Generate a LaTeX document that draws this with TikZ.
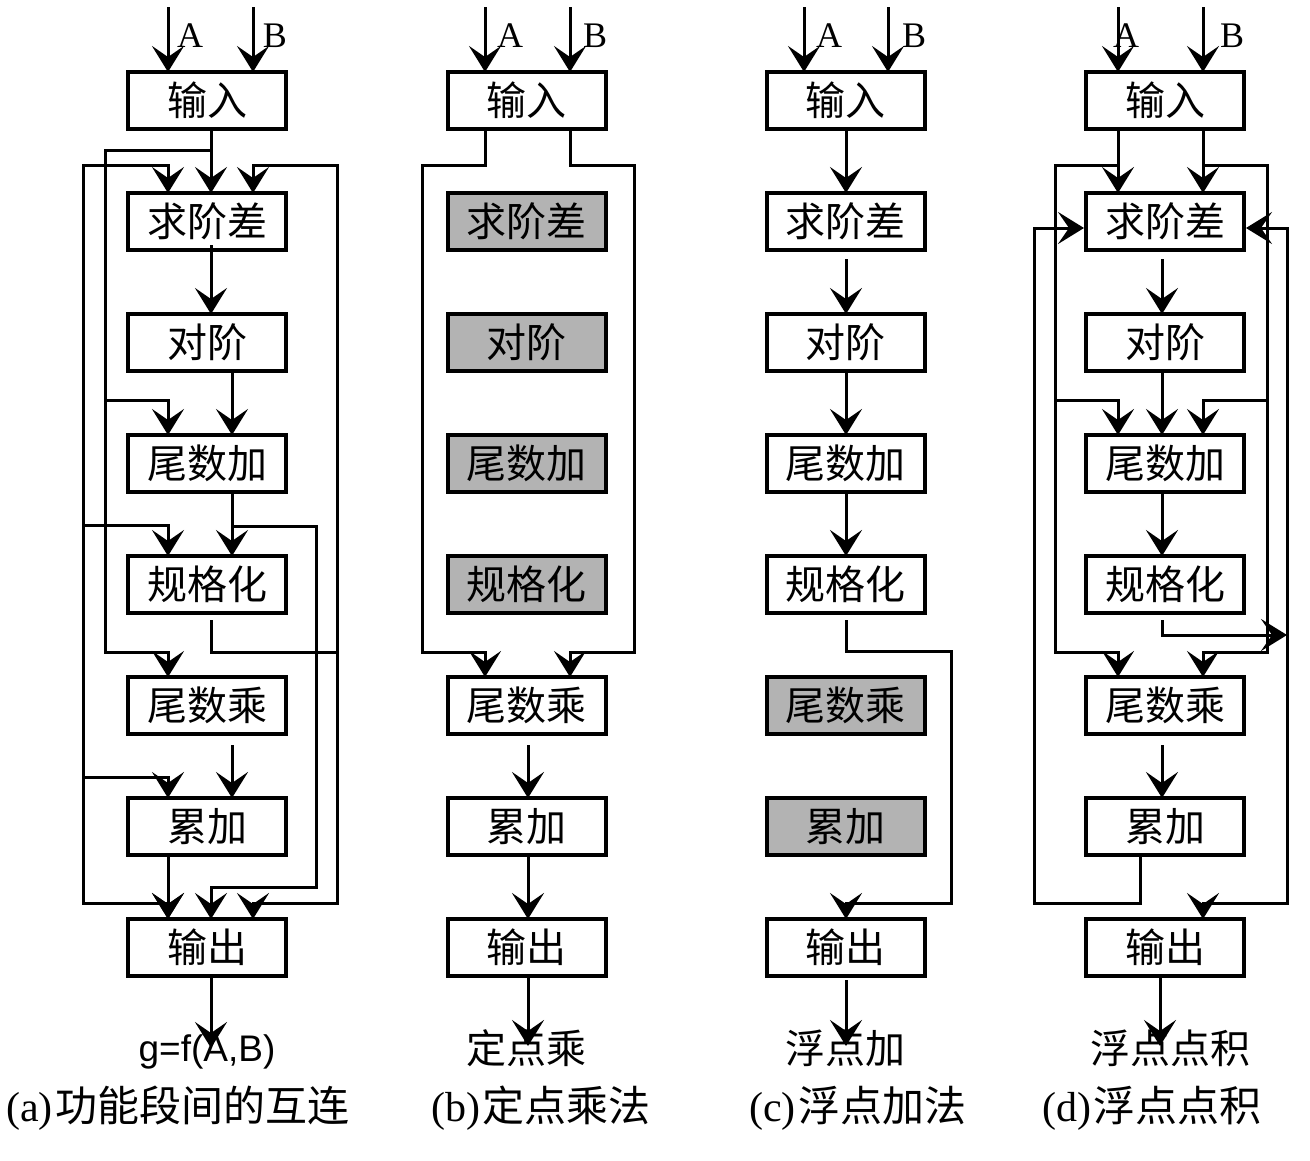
\documentclass[tikz,border=0pt]{standalone}
\usepackage{fontspec}
\setmainfont{Liberation Serif}
\newfontfamily\cjk{Noto Sans CJK SC}
\newfontfamily\arialf{Liberation Sans}
\usetikzlibrary{arrows.meta}
\definecolor{boxgray}{RGB}{179,179,179}
\tikzset{
  stagebox/.style={draw, line width=4pt, minimum width=158pt, minimum height=57pt, inner sep=0pt,
    fill=white, font=\cjk\fontsize{40}{44}\selectfont},
  graybox/.style={stagebox, fill=boxgray},
  wire/.style={line width=3pt, line cap=rect, line join=miter},
  conn/.style={wire, -{Stealth[length=26pt,width=32pt,inset=11pt]}},
  abtext/.style={font=\fontsize{36}{40}\selectfont, inner sep=0pt},
  outtext/.style={font=\cjk\fontsize{40}{44}\selectfont, inner sep=0pt},
  captext/.style={font=\fontsize{42}{46}\selectfont, inner sep=0pt}
}
\begin{document}
\begin{tikzpicture}[x=1pt,y=-1pt]
\fill[white] (0,0) rectangle (1310,1160);
\useasboundingbox (0,0) rectangle (1310,1160);

% ---------------- column (a) ----------------
\node[stagebox] (a1) at (207,100.5) {输入};
\node[stagebox] (a2) at (207,221.5) {求阶差};
\node[stagebox] (a3) at (207,342.5) {对阶};
\node[stagebox] (a4) at (207,463.5) {尾数加};
\node[stagebox] (a5) at (207,584.5) {规格化};
\node[stagebox] (a6) at (207,705.5) {尾数乘};
\node[stagebox] (a7) at (207,826.5) {累加};
\node[stagebox] (a8) at (207,947.5) {输出};
\node[abtext] (aA) at (190,36) {A};
\node[abtext] (aB) at (275,36) {B};
\coordinate (aAs) at (168,8);
\coordinate (aBs) at (253,8);
\draw[conn] (aAs) -- ([xshift=-39pt,yshift=-2pt]a1.north);
\draw[conn] (aBs) -- ([xshift=46pt,yshift=-2pt]a1.north);
\draw[conn] ([xshift=4pt]a1.south) -- ([xshift=4pt,yshift=-2pt]a2.north);
\draw[conn] (211,150) -- (105,150) -- (105,652) -- (168,652) -- ([xshift=-39pt,yshift=-2pt]a6.north);
\draw[conn] (105,400) -- (168,400) -- ([xshift=-39pt,yshift=-2pt]a4.north);
\draw[conn] (83,165) -- (168,165) -- ([xshift=-39pt,yshift=-2pt]a2.north);
\draw[conn] (83,165) -- (83,903) -- (168,903) -- ([xshift=-39pt,yshift=-2pt]a8.north);
\draw[conn] (83,525) -- (168,525) -- ([xshift=-39pt,yshift=-2pt]a5.north);
\draw[conn] (83,777) -- (168,777) -- ([xshift=-39pt,yshift=-2pt]a7.north);
\draw[conn] ([xshift=-39pt]a7.south) -- ([xshift=-39pt,yshift=-2pt]a8.north);
\draw[conn] ([xshift=4pt,yshift=6pt]a2.south) -- ([xshift=4pt,yshift=-2pt]a3.north);
\draw[conn] ([xshift=25pt]a3.south) -- ([xshift=25pt,yshift=-2pt]a4.north);
\draw[conn] ([xshift=25pt]a4.south) -- ([xshift=25pt,yshift=-2pt]a5.north);
\draw[conn] (232,526) -- (316,526) -- (316,887) -- (211,887) -- ([xshift=4pt,yshift=-2pt]a8.north);
\draw[wire] ([xshift=4pt,yshift=-6pt]a5.south) -- (211,652) -- (337,652);
\draw[conn] (337,165) -- (253,165) -- ([xshift=46pt,yshift=-2pt]a2.north);
\draw[wire] (337,165) -- (337,903);
\draw[conn] (337,903) -- (253,903) -- ([xshift=46pt,yshift=-2pt]a8.north);
\draw[conn] ([xshift=25pt,yshift=-10pt]a6.south) -- ([xshift=25pt,yshift=-2pt]a7.north);
\node[font=\arialf\fontsize{37}{40}\selectfont, inner sep=0pt] (ga) at (207,1052) {g=f(A,B)};
\coordinate (gat) at (211,1048);
\draw[conn] ([xshift=4pt]a8.south) -- (gat);
\node[captext, anchor=west] (capa) at (6,1108) {(a)\hspace{3pt}{\cjk 功能段间的互连}};

% ---------------- column (b) ----------------
\node[stagebox] (b1) at (526.5,100.5) {输入};
\node[graybox] (b2) at (526.5,221.5) {求阶差};
\node[graybox] (b3) at (526.5,342.5) {对阶};
\node[graybox] (b4) at (526.5,463.5) {尾数加};
\node[graybox] (b5) at (526.5,584.5) {规格化};
\node[stagebox] (b6) at (526.5,705.5) {尾数乘};
\node[stagebox] (b7) at (526.5,826.5) {累加};
\node[stagebox] (b8) at (526.5,947.5) {输出};
\node[abtext] (bA) at (510,36) {A};
\node[abtext] (bB) at (595,36) {B};
\coordinate (bAs) at (485,8);
\coordinate (bBs) at (570,8);
\draw[conn] (bAs) -- ([xshift=-41.5pt,yshift=-2pt]b1.north);
\draw[conn] (bBs) -- ([xshift=43.5pt,yshift=-2pt]b1.north);
\draw[conn] ([xshift=-41.5pt]b1.south) -- (485,165) -- (422,165) -- (422,652) -- (485,652) -- ([xshift=-41.5pt,yshift=-2pt]b6.north);
\draw[conn] ([xshift=43.5pt]b1.south) -- (570,165) -- (634,165) -- (634,652) -- (570,652) -- ([xshift=43.5pt,yshift=-2pt]b6.north);
\draw[conn] ([xshift=1.5pt,yshift=-10pt]b6.south) -- ([xshift=1.5pt,yshift=-2pt]b7.north);
\draw[conn] ([xshift=1.5pt]b7.south) -- ([xshift=1.5pt,yshift=-2pt]b8.north);
\node[outtext] (gb) at (526.5,1048) {定点乘};
\coordinate (gbt) at (528,1046);
\draw[conn] ([xshift=1.5pt]b8.south) -- (gbt);
\node[captext] (capb) at (541,1108) {(b)\hspace{3pt}{\cjk 定点乘法}};

% ---------------- column (c) ----------------
\node[stagebox] (c1) at (845.5,100.5) {输入};
\node[stagebox] (c2) at (845.5,221.5) {求阶差};
\node[stagebox] (c3) at (845.5,342.5) {对阶};
\node[stagebox] (c4) at (845.5,463.5) {尾数加};
\node[stagebox] (c5) at (845.5,584.5) {规格化};
\node[graybox] (c6) at (845.5,705.5) {尾数乘};
\node[graybox] (c7) at (845.5,826.5) {累加};
\node[stagebox] (c8) at (845.5,947.5) {输出};
\node[abtext] (cA) at (829,36) {A};
\node[abtext] (cB) at (914,36) {B};
\coordinate (cAs) at (804,8);
\coordinate (cBs) at (888,8);
\draw[conn] (cAs) -- ([xshift=-41.5pt,yshift=-2pt]c1.north);
\draw[conn] (cBs) -- ([xshift=42.5pt,yshift=-2pt]c1.north);
\draw[conn] ([xshift=0.5pt]c1.south) -- ([xshift=0.5pt,yshift=-2pt]c2.north);
\draw[conn] ([xshift=0.5pt,yshift=-8pt]c2.south) -- ([xshift=0.5pt,yshift=-2pt]c3.north);
\draw[conn] ([xshift=0.5pt]c3.south) -- ([xshift=0.5pt,yshift=-2pt]c4.north);
\draw[conn] ([xshift=0.5pt]c4.south) -- ([xshift=0.5pt,yshift=-2pt]c5.north);
\draw[conn] ([xshift=0.5pt,yshift=-6pt]c5.south) -- (846,651) -- (951,651) -- (951,903) -- (846,903) -- ([xshift=0.5pt,yshift=-2pt]c8.north);
\node[outtext] (gc) at (845.5,1048) {浮点加};
\coordinate (gct) at (846,1046);
\draw[conn] ([xshift=0.5pt,yshift=-3pt]c8.south) -- (gct);
\node[captext] (capc) at (858,1108) {(c)\hspace{3pt}{\cjk 浮点加法}};

% ---------------- column (d) ----------------
\node[stagebox] (d1) at (1165,100.5) {输入};
\node[stagebox] (d2) at (1165,221.5) {求阶差};
\node[stagebox] (d3) at (1165,342.5) {对阶};
\node[stagebox] (d4) at (1165,463.5) {尾数加};
\node[stagebox] (d5) at (1165,584.5) {规格化};
\node[stagebox] (d6) at (1165,705.5) {尾数乘};
\node[stagebox] (d7) at (1165,826.5) {累加};
\node[stagebox] (d8) at (1165,947.5) {输出};
\node[abtext] (dA) at (1126,36) {A};
\node[abtext] (dB) at (1232,36) {B};
\coordinate (dAs) at (1118,8);
\coordinate (dBs) at (1203,8);
\draw[conn] (dAs) -- ([xshift=-47pt,yshift=-2pt]d1.north);
\draw[conn] (dBs) -- ([xshift=38pt,yshift=-2pt]d1.north);
\draw[conn] ([xshift=-47pt]d1.south) -- ([xshift=-47pt,yshift=-2pt]d2.north);
\draw[conn] ([xshift=38pt]d1.south) -- ([xshift=38pt,yshift=-2pt]d2.north);
\draw[conn] (1118,165) -- (1055,165) -- (1055,652) -- (1118,652) -- ([xshift=-47pt,yshift=-2pt]d6.north);
\draw[conn] (1055,400) -- (1118,400) -- ([xshift=-47pt,yshift=-2pt]d4.north);
\draw[conn] (1203,165) -- (1267,165) -- (1267,652) -- (1203,652) -- ([xshift=38pt,yshift=-2pt]d6.north);
\draw[conn] (1267,400) -- (1203,400) -- ([xshift=38pt,yshift=-2pt]d4.north);
\draw[conn] ([xshift=-3pt,yshift=-8pt]d2.south) -- ([xshift=-3pt,yshift=-2pt]d3.north);
\draw[conn] ([xshift=-3pt]d3.south) -- ([xshift=-3pt,yshift=-2pt]d4.north);
\draw[conn] ([xshift=-3pt]d4.south) -- ([xshift=-3pt,yshift=-2pt]d5.north);
\draw[conn] ([xshift=-3pt,yshift=-10pt]d6.south) -- ([xshift=-3pt,yshift=-2pt]d7.north);
\draw[conn] ([xshift=-25pt]d7.south) -- (1140,903) -- (1034,903) -- (1034,228) -- ([yshift=-6.5pt]d2.west);
\draw[conn] (1287,903) -- (1287,228) -- ([yshift=-6.5pt]d2.east);
\draw[conn] (1287,903) -- (1203,903) -- ([xshift=38pt,yshift=-2pt]d8.north);
\coordinate (dj) at (1287,635);
\draw[conn] ([xshift=-3pt,yshift=-6pt]d5.south) -- (1162,635) -- (dj);
\node[outtext] (gd) at (1170,1048) {浮点点积};
\coordinate (gdt) at (1160,1046);
\draw[conn] ([xshift=-5pt]d8.south) -- (gdt);
\node[captext] (capd) at (1152,1108) {(d)\hspace{3pt}{\cjk 浮点点积}};
\end{tikzpicture}
\end{document}
